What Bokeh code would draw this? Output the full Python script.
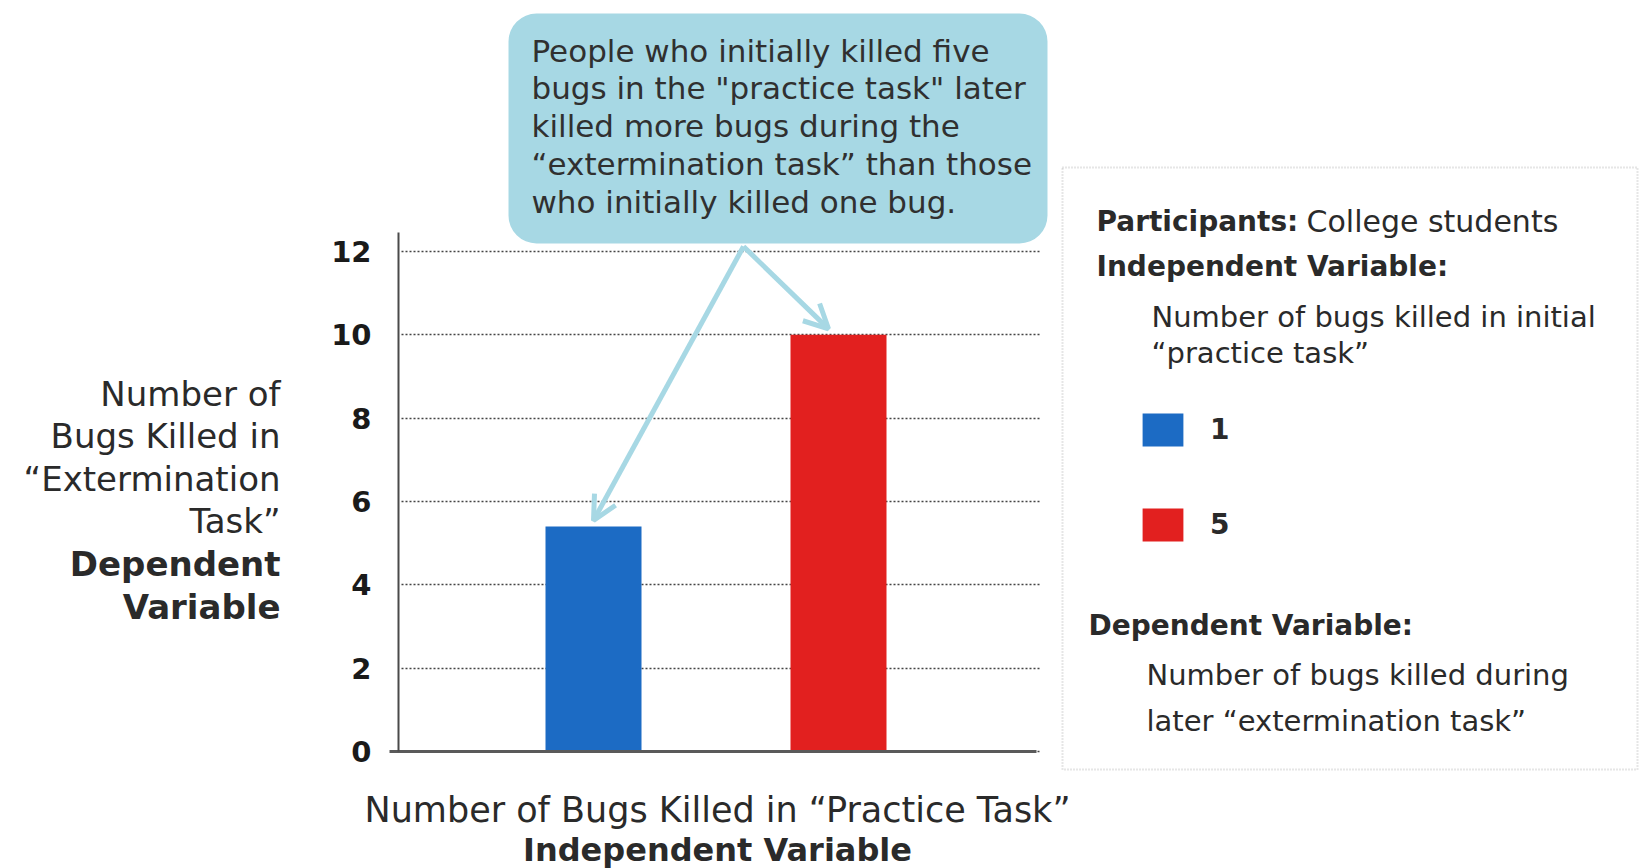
from bokeh.plotting import figure
from bokeh.models import (Range1d, FixedTicker, Label, BoxAnnotation, Arrow, OpenHead,
                          Legend, LegendItem, ColumnDataSource)
from bokeh.embed import file_html
from bokeh.resources import INLINE

# ---------------- data ----------------
categories = ["1", "5"]              # bugs killed in practice task
values = [5.4, 10.0]                 # bugs killed in extermination task
bar_colors = ["#1c6bc4", "#e2201f"]
y_ticks = [0, 2, 4, 6, 8, 10, 12]

callout_lines = [
    "People who initially killed five",
    "bugs in the \"practice task\" later",
    "killed more bugs during the",
    "\u201cextermination task\u201d than those",
    "who initially killed one bug.",
]
ylabel_lines = ["Number of", "Bugs Killed in", "\u201cExtermination", "Task\u201d"]
ylabel_bold = ["Dependent", "Variable"]
xlabel_line = "Number of Bugs Killed in \u201cPractice Task\u201d"
xlabel_bold = "Independent Variable"

FONT = "DejaVu Sans"
TXT = "#2a2a2a"
W, H = 1641, 868

# ---------------- mapping: page pixel -> data ----------------
UX = 245.0              # px per category step
UY = 500.0 / 12         # px per y unit
X_AT_0 = 1 - 593 / UX   # data x at canvas left
Y0_PIX = 751            # canvas y of value 0

def px(X):
    return X_AT_0 + X / UX

def py(Y):
    return (Y0_PIX - Y) / UY

p = figure(width=W, height=H, output_backend="svg", toolbar_location=None, title=None,
           x_range=Range1d(px(0), px(W)), y_range=Range1d(py(H), py(0)),
           min_border=0, min_border_left=0, min_border_right=0,
           min_border_top=0, min_border_bottom=0)
p.outline_line_color = None
p.xgrid.visible = False

# y axis drawn at the chart's left edge
p.yaxis.fixed_location = px(398)
p.yaxis.bounds = (0, py(232))
p.yaxis.ticker = FixedTicker(ticks=y_ticks)
p.yaxis.major_tick_line_color = None
p.yaxis.minor_tick_line_color = None
p.yaxis.axis_line_color = "#4a4a4a"
p.yaxis.axis_line_width = 2
p.yaxis.major_label_text_font = FONT
p.yaxis.major_label_text_font_style = "bold"
p.yaxis.major_label_text_font_size = "29px"
p.yaxis.major_label_text_color = "#1a1a1a"
p.yaxis.major_label_standoff = 21

p.xaxis.fixed_location = 0
p.xaxis.bounds = (px(389), px(1036))
p.xaxis.ticker = FixedTicker(ticks=[])
p.xaxis.major_tick_line_color = None
p.xaxis.minor_tick_line_color = None
p.xaxis.major_label_text_font_size = "0px"
p.xaxis.axis_line_color = "#5a5a5a"
p.xaxis.axis_line_width = 3

grid_style = dict(line_color="#444444", line_width=1.5, line_dash="2 2")
try:
    p.ygrid.cross_bounds = (px(401), px(1041))
    p.ygrid.ticker = FixedTicker(ticks=y_ticks)
    p.ygrid.grid_line_color = grid_style["line_color"]
    p.ygrid.grid_line_width = grid_style["line_width"]
    p.ygrid.grid_line_dash = grid_style["line_dash"]
except AttributeError:
    p.ygrid.visible = False
    p.segment(x0=[px(401)] * len(y_ticks), x1=[px(1041)] * len(y_ticks),
              y0=y_ticks, y1=y_ticks, **grid_style)

# ---------------- callout (behind bars/arrows) ----------------
callout_col = "#a7d8e4"
p.add_layout(BoxAnnotation(left=px(508), right=px(1047), top=py(13), bottom=py(243),
                           fill_color=callout_col, fill_alpha=1.0, line_color=None,
                           border_radius=28, level="underlay"))

# ---------------- bars ----------------
x_pos = list(range(1, len(categories) + 1))
src = ColumnDataSource(dict(x=x_pos, top=values, color=bar_colors, cat=categories))
bars = p.vbar(x="x", top="top", bottom=0, width=96 / UX, fill_color="color",
              line_color=None, source=src)

ax0, ay0 = px(743), py(246)
for i in range(len(values)):
    dx = 0 if i == 0 else -10 / UX
    p.add_layout(Arrow(end=OpenHead(size=24, line_color=callout_col, line_width=5),
                       line_color=callout_col, line_width=5,
                       x_start=ax0, y_start=ay0,
                       x_end=x_pos[i] + dx, y_end=values[i] + 6 / UY))

# ---------------- texts ----------------
def lab(X, Y, t, bold=False, size="29px", align="left", color=TXT):
    p.add_layout(Label(x=px(X), y=py(Y), text=t, text_align=align,
                       text_baseline="middle", text_font=FONT, text_font_size=size,
                       text_font_style="bold" if bold else "normal", text_color=color))

for i, t in enumerate(callout_lines):
    lab(531, 50 + i * 37.8, t, size="31px", color="#303030")

for i, t in enumerate(ylabel_lines + ylabel_bold):
    lab(280, 393 + i * 42.6, t, bold=i >= len(ylabel_lines), size="34px", align="right")

lab(717, 809, xlabel_line, size="35px", align="center")
lab(717, 849, xlabel_bold, bold=True, size="32px", align="center")

# ---------------- legend panel ----------------
p.add_layout(BoxAnnotation(left=px(1062), right=px(1637), top=py(167), bottom=py(769),
                           fill_alpha=0, line_color="#555555", line_width=2,
                           line_dash="1 2"))
lab(1096, 221, "Participants:", True, size="28px")
lab(1306, 221, "College students", size="30px")
lab(1096, 266, "Independent Variable:", True, size="28px")
lab(1151, 316, "Number of bugs killed in initial")
lab(1151, 352, "\u201cpractice task\u201d")
lab(1088, 625, "Dependent Variable:", True, size="28px")
lab(1146, 674, "Number of bugs killed during")
lab(1146, 720, "later \u201cextermination task\u201d")

legend = Legend(items=[LegendItem(label=c, renderers=[bars], index=i)
                       for i, c in enumerate(categories)],
                location=(1137, H - 545.4),
                glyph_width=51, glyph_height=41, label_height=41,
                spacing=54, label_standoff=22, padding=0, margin=0,
                label_text_font=FONT, label_text_font_size="28px",
                label_text_font_style="bold", label_text_color=TXT,
                border_line_color=None, background_fill_alpha=0)
p.add_layout(legend)

open("out.html", "w").write(file_html(p, INLINE))
